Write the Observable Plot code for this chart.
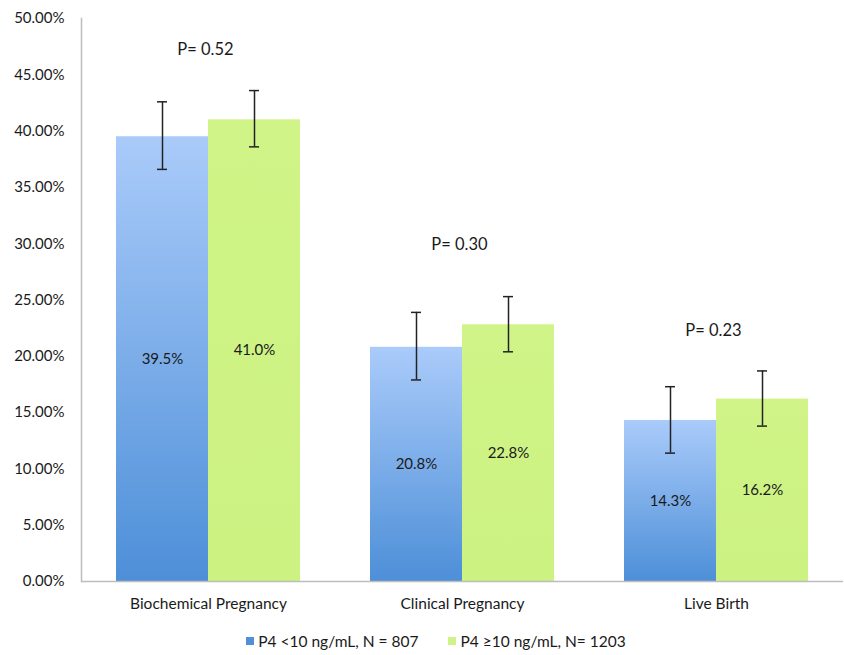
<!DOCTYPE html>
<html>
<head>
<meta charset="utf-8">
<script src="https://cdn.jsdelivr.net/npm/d3@7"></script>
<script src="https://cdn.jsdelivr.net/npm/@observablehq/plot@0.6"></script>
<style>
  body { margin: 0; background: #fff; font-family: Lato, "Open Sans", sans-serif; }
  #chart { width: 844px; }
  .legend { display: flex; justify-content: center; align-items: center; gap: 30px;
            margin-top: 6px; padding-left: 28px; font-size: 15.5px; line-height: 20px; color: #1a1a1a; }
  .legend span.item { display: inline-flex; align-items: center; gap: 4px; }
  .legend i { display: inline-block; width: 8px; height: 8px; }
</style>
</head>
<body>
<div id="chart"></div>
<script>
// Outcome rates (%) by progesterone group, with error bar bounds
const categories = ["Biochemical Pregnancy", "Clinical Pregnancy", "Live Birth"];
const groups = ["P4 <10 ng/mL, N = 807", "P4 \u226510 ng/mL, N= 1203"];
const lowValues = [39.5, 20.8, 14.3];
const highValues = [41.0, 22.8, 16.2];
const lowErrLower = [36.6, 17.9, 11.4];
const lowErrUpper = [42.6, 23.9, 17.3];
const highErrLower = [38.6, 20.4, 13.8];
const highErrUpper = [43.6, 25.3, 18.7];
const pLabels = ["P= 0.52", "P= 0.30", "P= 0.23"];
const pLabelY = [47.2, 29.9, 22.3];
const yTicks = [0, 5, 10, 15, 20, 25, 30, 35, 40, 45, 50];
const legendColors = ["#4f8fdb", "#cff385"];

const rows = categories.flatMap((c, i) => [
  {category: c, group: groups[0], value: lowValues[i], lo: lowErrLower[i], hi: lowErrUpper[i]},
  {category: c, group: groups[1], value: highValues[i], lo: highErrLower[i], hi: highErrUpper[i]}
]);
const pRows = categories.map((c, i) => ({category: c, label: pLabels[i], y: pLabelY[i]}));

const chart = Plot.plot({
  width: 844,
  height: 625,
  marginTop: 18,
  marginBottom: 44,
  marginLeft: 80,
  marginRight: 0,
  style: {fontFamily: "Lato, 'Open Sans', sans-serif", fontSize: "15px", color: "#1a1a1a", background: "#fff"},
  fx: {domain: categories, padding: 0, axis: "bottom", tickSize: 0, tickPadding: 16, label: null},
  x: {domain: groups, paddingInner: 0, paddingOuter: 0.366, axis: null},
  y: {domain: [0, 50], ticks: yTicks, tickFormat: d => d.toFixed(2) + "%", tickSize: 0, tickPadding: 17, label: null},
  color: {domain: groups, range: ["url(#gradLow)", "url(#gradHigh)"]},
  marks: [
    Plot.barY(rows, {fx: "category", x: "group", y: "value", fill: "group"}),
    Plot.ruleY([0], {stroke: "#bdbdbd", strokeWidth: 1.5}),
    Plot.frame({anchor: "left", stroke: "#bdbdbd", strokeWidth: 1.5, facetAnchor: "left"}),
    Plot.ruleX(rows, {fx: "category", x: "group", y1: "lo", y2: "hi", stroke: "#222", strokeWidth: 1.5}),
    Plot.tickY(rows, {fx: "category", x: "group", y: "lo", stroke: "#222", strokeWidth: 1.5, insetLeft: 41, insetRight: 41}),
    Plot.tickY(rows, {fx: "category", x: "group", y: "hi", stroke: "#222", strokeWidth: 1.5, insetLeft: 41, insetRight: 41}),
    Plot.text(rows, {fx: "category", x: "group", y: d => d.value / 2, text: d => d.value.toFixed(1) + "%", fontSize: 15, fill: "#1a1a1a"}),
    Plot.text(pRows, {fx: "category", y: "y", text: "label", fontSize: 16.5, fill: "#1a1a1a", dx: -3})
  ]
});

// Category labels a little larger than the tick labels
d3.select(chart).selectAll("g[aria-label='fx-axis tick label'] text, g[aria-label='fx-axis tick label']").style("font-size", "15.5px");

// Vertical gradients for the bar fills
const defs = d3.select(chart).insert("defs", ":first-child");
const gLow = defs.append("linearGradient").attr("id", "gradLow").attr("x1", 0).attr("y1", 0).attr("x2", 0).attr("y2", 1);
gLow.append("stop").attr("offset", "0%").attr("stop-color", "#aacbfa");
gLow.append("stop").attr("offset", "100%").attr("stop-color", "#4d8fd8");
const gHigh = defs.append("linearGradient").attr("id", "gradHigh").attr("x1", 0).attr("y1", 0).attr("x2", 0).attr("y2", 1);
gHigh.append("stop").attr("offset", "0%").attr("stop-color", "#d0f487");
gHigh.append("stop").attr("offset", "100%").attr("stop-color", "#ccf282");

document.getElementById("chart").appendChild(chart);

// Legend below the plot
const legend = d3.select("#chart").append("div").attr("class", "legend");
groups.forEach((g, i) => {
  const item = legend.append("span").attr("class", "item");
  item.append("i").style("background", legendColors[i]);
  item.append("span").text(g);
});
</script>
</body>
</html>
